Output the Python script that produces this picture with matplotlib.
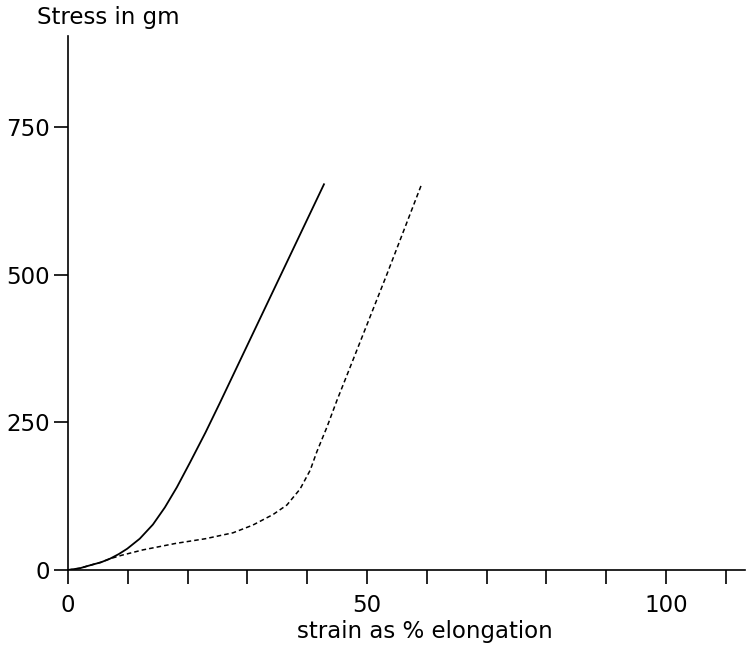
import matplotlib
matplotlib.use("Agg")
import matplotlib.pyplot as plt

# Data
strain_solid = [0, 2, 3.7, 5.5, 7, 8.5, 9.9, 12, 14.2, 16.2, 18.2, 20.4, 23, 25.4, 34.1, 42.8]
stress_solid = [0, 3, 8, 13, 19, 27, 36, 53, 77, 106, 140, 182, 233, 283, 468, 653]

strain_dashed = [0, 2, 3.7, 5.5, 7, 9, 12.5, 18, 23, 27.6, 30.9, 34.3, 36.6, 38.8, 40.5, 41.6, 43.3, 45, 46.3, 53.3, 59.2]
stress_dashed = [0, 3, 8, 13, 19, 25, 34, 45, 53, 63, 76, 94, 110, 137, 169, 200, 242, 288, 321, 500, 655]

x_ticks = list(range(0, 111, 10))
x_ticklabels = ["0" if t == 0 else ("50" if t == 50 else ("100" if t == 100 else "")) for t in x_ticks]
y_ticks = [0, 250, 500, 750]
y_ticklabels = ["0", "250", "500", "750"]

fig = plt.figure(figsize=(7.47, 6.47), dpi=100)
ax = fig.add_axes([68/747, 77/647, (745-68)/747, (570-36)/647])

ax.plot(strain_solid, stress_solid, color="black", lw=1.3, solid_joinstyle="round")
ax.plot(strain_dashed, stress_dashed, color="black", lw=1.1, dashes=(3, 2))

ax.set_xlim(0, 113.2)
ax.set_ylim(0, 904)

for s in ["top", "right"]:
    ax.spines[s].set_visible(False)
for s in ["left", "bottom"]:
    ax.spines[s].set_linewidth(1.2)

ax.set_xticks(x_ticks)
ax.set_xticklabels(x_ticklabels)
ax.set_yticks(y_ticks)
ax.set_yticklabels(y_ticklabels)
ax.tick_params(axis="x", direction="out", length=10, width=1.2, pad=7, labelsize=16.5)
ax.tick_params(axis="y", direction="out", length=10, width=1.2, pad=3, labelsize=16.5)

ax.set_xlabel("strain as % elongation", fontsize=16.5)
ax.xaxis.set_label_coords(0.527, -0.093)
ax.xaxis.label.set_va("top")

ax.text(-0.046, 1.034, "Stress in gm", transform=ax.transAxes, fontsize=16.5,
        ha="left", va="center")

fig.savefig("out.png", dpi=100)
